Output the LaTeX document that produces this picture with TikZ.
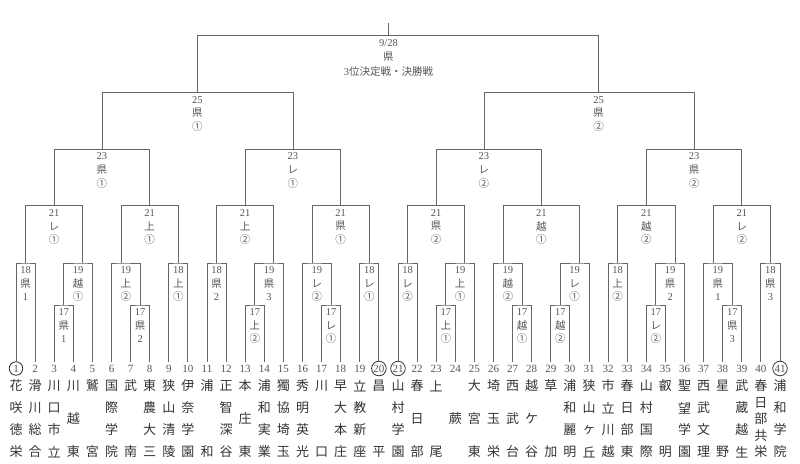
\documentclass[tikz,border=0pt]{standalone}
\usepackage{fontspec}
\setmainfont{Liberation Serif}
\newfontfamily\jp{Noto Sans CJK JP}
\definecolor{linegray}{HTML}{666666}
\definecolor{labgray}{HTML}{555555}
\definecolor{txtdark}{HTML}{333333}
\tikzset{
  br/.style={draw=linegray, line width=0.85pt},
  lab/.style={font=\fontsize{10.5}{12}\selectfont, text=labgray, inner sep=0pt},
  num/.style={font=\fontsize{11}{12}\selectfont, text=labgray, inner sep=0pt},
  numc/.style={num, draw=txtdark, circle, line width=0.8pt, minimum size=13.5pt, inner sep=0.5pt},
  nm/.style={font=\jp\fontsize{13}{14}\selectfont, text=txtdark, inner sep=0pt}
}
\newcommand\match[9]{%
  \coordinate (#1) at ({#4},{#5});
  \draw[br] (#2) |- (#1) -| (#3);
  \node[lab] (#1-a) at ({#6},{#5+7}) {#7};
  \node[lab] (#1-b) at ({#6},{#5+20.5}) {\jp #8};
  \node[lab] (#1-c) at ({#6},{#5+34}) {#9};
}
\newcommand\team[4]{%
  \pgfmathsetmacro\tx{16+19.1*(#1-1)}
  \coordinate (p#1) at (\tx,362);
  \node[#4] (n#1) at (\tx,368.5) {#1};
  \foreach \c [count=\k] in {#3} {
    \ifnum#2=1 \def\ty{419}\else\pgfmathsetmacro\ty{386+(\k-1)*66/(#2-1)}\fi
    \node[nm] (c#1-\k) at (\tx,\ty) {\c};
  }
}
\begin{document}
\begin{tikzpicture}[x=1pt,y=-1pt]
\useasboundingbox (0,0) rectangle (800,463);
% teams
\team{1}{4}{花,咲,徳,栄}{numc}
\team{2}{4}{滑,川,総,合}{num}
\team{3}{4}{川,口,市,立}{num}
\team{4}{3}{川,越,東}{num}
\team{5}{2}{鷲,宮}{num}
\team{6}{4}{国,際,学,院}{num}
\team{7}{2}{武,南}{num}
\team{8}{4}{東,農,大,三}{num}
\team{9}{4}{狭,山,清,陵}{num}
\team{10}{4}{伊,奈,学,園}{num}
\team{11}{2}{浦,和}{num}
\team{12}{4}{正,智,深,谷}{num}
\team{13}{3}{本,庄,東}{num}
\team{14}{4}{浦,和,実,業}{num}
\team{15}{4}{獨,協,埼,玉}{num}
\team{16}{4}{秀,明,英,光}{num}
\team{17}{2}{川,口}{num}
\team{18}{4}{早,大,本,庄}{num}
\team{19}{4}{立,教,新,座}{num}
\team{20}{2}{昌,平}{numc}
\team{21}{4}{山,村,学,園}{numc}
\team{22}{3}{春,日,部}{num}
\team{23}{2}{上,尾}{num}
\team{24}{1}{蕨}{num}
\team{25}{3}{大,宮,東}{num}
\team{26}{3}{埼,玉,栄}{num}
\team{27}{3}{西,武,台}{num}
\team{28}{3}{越,ケ,谷}{num}
\team{29}{2}{草,加}{num}
\team{30}{4}{浦,和,麗,明}{num}
\team{31}{4}{狭,山,ヶ,丘}{num}
\team{32}{4}{市,立,川,越}{num}
\team{33}{4}{春,日,部,東}{num}
\team{34}{4}{山,村,国,際}{num}
\team{35}{2}{叡,明}{num}
\team{36}{4}{聖,望,学,園}{num}
\team{37}{4}{西,武,文,理}{num}
\team{38}{2}{星,野}{num}
\team{39}{4}{武,蔵,越,生}{num}
\team{40}{5}{春,日,部,共,栄}{num}
\team{41}{4}{浦,和,学,院}{numc}
% left half
\match{mA}{p1}{p2}{25.55}{263}{25.55}{18}{県}{1}
\match{mB}{p3}{p4}{63.75}{305}{63.75}{17}{県}{1}
\match{mC}{mB}{p5}{82.85}{263}{78.08}{19}{越}{\jp ①}
\match{mD}{mA}{mC}{54.2}{205.7}{54.2}{21}{レ}{\jp ①}
\match{mF}{p7}{p8}{140.15}{305}{140.15}{17}{県}{2}
\match{mE}{p6}{mF}{121.05}{263}{125.83}{19}{上}{\jp ②}
\match{mG}{p9}{p10}{178.35}{263}{178.35}{18}{上}{\jp ①}
\match{mH}{mE}{mG}{149.7}{205.7}{149.7}{21}{上}{\jp ①}
\match{mI}{mD}{mH}{101.95}{149.3}{101.95}{23}{県}{\jp ①}
\match{mJ}{p11}{p12}{216.55}{263}{216.55}{18}{県}{2}
\match{mK}{p13}{p14}{254.75}{305}{254.75}{17}{上}{\jp ②}
\match{mL}{mK}{p15}{273.85}{263}{269.08}{19}{県}{3}
\match{mM}{mJ}{mL}{245.2}{205.7}{245.2}{21}{上}{\jp ②}
\match{mO}{p17}{p18}{331.15}{305}{331.15}{17}{レ}{\jp ①}
\match{mN}{p16}{mO}{312.05}{263}{316.83}{19}{レ}{\jp ②}
\match{mP}{p19}{p20}{369.35}{263}{369.35}{18}{レ}{\jp ①}
\match{mQ}{mN}{mP}{340.7}{205.7}{340.7}{21}{県}{\jp ①}
\match{mR}{mM}{mQ}{292.95}{149.3}{292.95}{23}{レ}{\jp ①}
\match{mS}{mI}{mR}{197.45}{92.7}{197.45}{25}{県}{\jp ①}
% right half
\match{ma}{p21}{p22}{407.55}{263}{407.55}{18}{レ}{\jp ②}
\match{mb}{p23}{p24}{445.75}{305}{445.75}{17}{上}{\jp ①}
\match{mc}{mb}{p25}{464.85}{263}{460.08}{19}{上}{\jp ①}
\match{md}{ma}{mc}{436.2}{205.7}{436.2}{21}{県}{\jp ②}
\match{me}{p27}{p28}{522.15}{305}{522.15}{17}{越}{\jp ①}
\match{mf}{p26}{me}{503.05}{263}{507.83}{19}{越}{\jp ②}
\match{mg}{p29}{p30}{560.35}{305}{560.35}{17}{越}{\jp ②}
\match{mh}{mg}{p31}{579.45}{263}{574.68}{19}{レ}{\jp ①}
\match{mi}{mf}{mh}{541.25}{205.7}{541.25}{21}{越}{\jp ①}
\match{mj}{md}{mi}{483.95}{149.3}{483.95}{23}{レ}{\jp ②}
\match{mk}{p32}{p33}{617.65}{263}{617.65}{18}{上}{\jp ②}
\match{ml}{p34}{p35}{655.85}{305}{655.85}{17}{レ}{\jp ②}
\match{mm}{ml}{p36}{674.95}{263}{670.18}{19}{県}{2}
\match{mn}{mk}{mm}{646.3}{205.7}{646.3}{21}{越}{\jp ②}
\match{mo}{p38}{p39}{732.25}{305}{732.25}{17}{県}{3}
\match{mp}{p37}{mo}{713.15}{263}{717.93}{19}{県}{1}
\match{mq}{p40}{p41}{770.45}{263}{770.45}{18}{県}{3}
\match{mr}{mp}{mq}{741.8}{205.7}{741.8}{21}{レ}{\jp ②}
\match{ms}{mn}{mr}{694.05}{149.3}{694.05}{23}{県}{\jp ②}
\match{mt}{mj}{ms}{598.55}{92.7}{598.55}{25}{県}{\jp ②}
% final
\coordinate (fin) at (388.45,35.7);
\coordinate (top) at (388.45,23.3);
\draw[br] (mS) |- (fin) -| (mt);
\draw[br] (top) -- (fin);
\node[lab] (fin-a) at (388.45,42.7) {9/28};
\node[lab] (fin-b) at (388.45,56.7) {\jp 県};
\node[lab] (fin-c) at (388.45,71.7) {3\jp 位決定戦・決勝戦};
\end{tikzpicture}
\end{document}
